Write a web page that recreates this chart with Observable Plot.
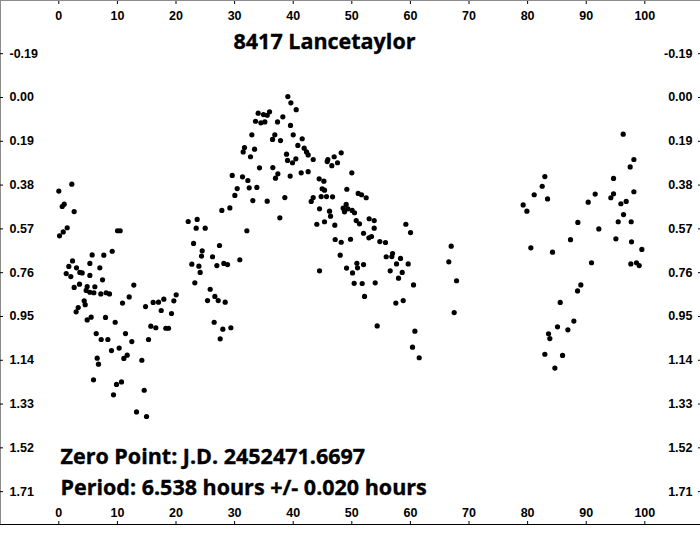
<!DOCTYPE html>
<html>
<head>
<meta charset="utf-8">
<script src="https://cdn.jsdelivr.net/npm/d3@7"></script>
<script src="https://cdn.jsdelivr.net/npm/@observablehq/plot@0.6"></script>
<style>
  html, body { margin: 0; padding: 0; background: #fff; }
  #chart svg { display: block; }
</style>
</head>
<body>
<div id="chart"></div>
<script>
// ---- text ----
const title = "8417 Lancetaylor";
const zeroPointNote = "Zero Point: J.D. 2452471.6697";
const periodNote = "Period: 6.538 hours +/- 0.020 hours";

// ---- axes ----
const xTicks = [0, 10, 20, 30, 40, 50, 60, 70, 80, 90, 100];
const yTicks = [-0.19, 0.00, 0.19, 0.38, 0.57, 0.76, 0.95, 1.14, 1.33, 1.52, 1.71];
const xDomain = [-9.95, 109.5];
const yDomain = [-0.4208, 1.8525];

// ---- data: phase (%) and relative magnitude ----
const phase = [
  0.00, 2.22, 0.58, 0.92, 2.62, 0.12, 0.75, 1.43, 10.02, 10.47,
  5.69, 7.68, 9.11, 2.34, 5.30, 1.71, 3.02, 7.00, 3.59, 3.99,
  1.26, 2.05, 5.30, 7.46, 12.80, 3.53, 2.62, 4.84, 6.15, 4.67,
  5.30, 5.98, 7.17, 8.08, 8.65, 12.01, 10.87, 4.33, 4.50, 3.31,
  2.96, 4.84, 5.52, 7.97, 9.62, 14.80, 16.10, 17.01, 17.92, 19.63,
  20.03, 17.47, 19.23, 15.70, 16.56, 18.26, 18.72, 6.38, 11.38, 7.23,
  8.37, 12.46, 15.31, 8.99, 10.30, 11.67, 11.10, 14.17, 6.55, 6.77,
  5.92, 9.85, 10.70, 9.33, 14.57, 13.26, 14.97,
  39.08, 39.60, 40.51, 34.02, 34.93, 35.56, 35.96, 33.57, 34.48, 35.16,
  37.32, 38.23, 39.54, 32.94, 36.86, 36.47, 37.83, 40.00, 41.53, 40.79,
  31.69, 33.40, 31.46, 32.71, 38.86, 39.03, 39.88, 40.45, 41.87, 42.27,
  42.55, 43.41, 45.91, 45.80, 46.59, 46.99, 47.56, 48.19, 34.25, 36.52,
  37.38, 36.98, 39.48, 41.36, 42.55, 29.59, 31.35, 32.26, 30.44, 32.49,
  33.79, 30.04, 33.11, 35.56, 38.57, 27.82, 29.19, 37.72, 22.08, 23.61,
  23.44, 24.98, 32.09, 44.43, 45.23, 50.00, 44.94, 45.34, 43.41, 43.07,
  44.77, 45.68, 46.71, 49.15, 51.09, 51.66, 52.45, 44.49, 46.19, 46.37,
  48.53, 49.04, 48.75, 49.32, 50.06, 50.46, 44.03, 45.34, 47.10, 50.75,
  51.31, 52.96, 53.82, 52.00, 52.91, 53.36, 53.82, 47.16, 48.19, 49.78,
  54.78, 55.75, 59.22, 60.02, 22.99, 27.42, 24.47, 24.35, 26.23, 30.89,
  22.70, 23.90, 24.12, 26.97, 28.16, 28.79, 48.02, 49.10, 50.12, 50.97,
  50.86, 52.00, 50.40, 51.77, 53.99, 52.17, 44.49, 55.87, 56.95, 56.83,
  58.31, 57.63, 59.62, 56.55, 58.60, 57.97, 60.53, 23.21, 25.83, 25.38,
  26.63, 27.20, 28.39, 57.51, 58.77, 26.51, 27.99, 29.36, 27.54, 54.33,
  60.76, 60.36, 61.50, 66.96, 66.55, 67.87, 67.47, 96.31, 98.13, 97.50,
  82.94, 82.49, 81.12, 83.40, 79.24, 79.87, 94.66, 91.53, 90.34, 94.66,
  94.20, 98.13, 96.82, 95.91, 96.37, 95.46, 97.67, 88.57, 92.15, 87.32,
  95.06, 97.73, 99.49, 80.55, 84.25, 90.90, 97.61, 98.58, 99.04, 89.08,
  88.52, 85.56, 87.89, 85.10, 86.87, 83.57, 83.79, 82.94, 85.96, 84.65
];
const mag = [
  0.406, 0.376, 0.473, 0.463, 0.495, 0.600, 0.583, 0.565, 0.578, 0.578,
  0.683, 0.684, 0.667, 0.709, 0.720, 0.733, 0.739, 0.739, 0.759, 0.761,
  0.764, 0.777, 0.772, 0.791, 0.814, 0.810, 0.824, 0.820, 0.821, 0.837,
  0.845, 0.847, 0.852, 0.847, 0.852, 0.865, 0.892, 0.882, 0.899, 0.911,
  0.930, 0.965, 0.953, 0.954, 0.975, 0.907, 0.889, 0.888, 0.875, 0.882,
  0.856, 0.924, 0.937, 0.992, 0.999, 1.001, 1.001, 1.024, 1.024, 1.050,
  1.050, 1.059, 1.050, 1.098, 1.087, 1.118, 1.132, 1.140, 1.131, 1.157,
  1.225, 1.245, 1.234, 1.290, 1.270, 1.364, 1.384,
  -0.004, 0.023, 0.053, 0.068, 0.074, 0.077, 0.062, 0.103, 0.110, 0.106,
  0.106, 0.084, 0.121, 0.162, 0.162, 0.182, 0.187, 0.162, 0.179, 0.208,
  0.217, 0.224, 0.236, 0.257, 0.246, 0.273, 0.283, 0.266, 0.220, 0.236,
  0.249, 0.269, 0.269, 0.278, 0.296, 0.257, 0.283, 0.240, 0.305, 0.304,
  0.331, 0.350, 0.341, 0.327, 0.322, 0.338, 0.344, 0.360, 0.395, 0.392,
  0.390, 0.425, 0.447, 0.450, 0.434, 0.490, 0.479, 0.522, 0.538, 0.529,
  0.567, 0.567, 0.578, 0.353, 0.363, 0.327, 0.396, 0.402, 0.434, 0.451,
  0.430, 0.430, 0.431, 0.398, 0.416, 0.422, 0.435, 0.483, 0.493, 0.515,
  0.480, 0.464, 0.496, 0.483, 0.490, 0.500, 0.550, 0.539, 0.554, 0.534,
  0.548, 0.526, 0.534, 0.589, 0.609, 0.603, 0.567, 0.616, 0.628, 0.615,
  0.625, 0.629, 0.550, 0.586, 0.633, 0.642, 0.665, 0.688, 0.691, 0.704,
  0.723, 0.732, 0.759, 0.729, 0.720, 0.725, 0.684, 0.740, 0.761, 0.739,
  0.719, 0.725, 0.806, 0.807, 0.804, 0.863, 0.752, 0.691, 0.677, 0.690,
  0.698, 0.722, 0.722, 0.752, 0.759, 0.784, 0.813, 0.804, 0.832, 0.881,
  0.863, 0.881, 0.888, 0.892, 0.881, 0.975, 1.005, 0.999, 1.047, 0.991,
  1.014, 1.083, 1.129, 0.645, 0.713, 0.795, 0.933, 0.159, 0.269, 0.301,
  0.343, 0.385, 0.422, 0.440, 0.466, 0.493, 0.351, 0.419, 0.454, 0.418,
  0.435, 0.409, 0.451, 0.461, 0.508, 0.539, 0.539, 0.542, 0.570, 0.617,
  0.613, 0.626, 0.659, 0.652, 0.671, 0.717, 0.722, 0.717, 0.729, 0.813,
  0.839, 0.889, 0.970, 0.995, 1.008, 1.025, 1.046, 1.114, 1.119, 1.174
];

const points = phase.map((p, i) => ({phase: p, mag: mag[i]}));
const fmtY = d => d.toFixed(2);
const fmtX = d => String(d);
const noteFont = {fontFamily: "'Open Sans', sans-serif", fontWeight: "bold", fontSize: 21.5, fill: "#000", stroke: "#000", strokeWidth: 0.35};

const chart = Plot.plot({
  width: 700,
  height: 548,
  marginTop: 0,
  marginRight: 0,
  marginBottom: 24,
  marginLeft: 0,
  style: {fontFamily: "'Liberation Sans', Arial, sans-serif", fontSize: "12.5px", fontWeight: "bold", background: "#fff", color: "#000"},
  x: {domain: xDomain, label: null},
  y: {domain: yDomain, reverse: true, label: null},
  marks: [
    Plot.frame({stroke: "#8c8c8c"}),
    Plot.ruleY([yDomain[1]], {stroke: "#000"}),
    Plot.axisX(xTicks, {anchor: "top", tickSize: -3, tickPadding: -16, tickFormat: fmtX, label: null}),
    Plot.axisX(xTicks, {anchor: "bottom", tickSize: -3, tickPadding: -13, tickFormat: fmtX, label: null}),
    Plot.axisY(yTicks, {anchor: "left", tickSize: -3, tickPadding: -6, textAnchor: "start", tickFormat: fmtY, label: null}),
    Plot.axisY(yTicks, {anchor: "right", tickSize: -3, tickPadding: -5, textAnchor: "end", tickFormat: fmtY, label: null}),
    Plot.dot(points, {x: "phase", y: "mag", r: 2.6, fill: "#000", stroke: null}),
    Plot.text([title], {frameAnchor: "top-left", dx: 233, dy: 48.3, lineAnchor: "bottom", textAnchor: "start", ...noteFont}),
    Plot.text([zeroPointNote], {frameAnchor: "top-left", dx: 60, dy: 463.3, lineAnchor: "bottom", textAnchor: "start", ...noteFont}),
    Plot.text([periodNote], {frameAnchor: "top-left", dx: 60, dy: 494.3, lineAnchor: "bottom", textAnchor: "start", ...noteFont})
  ]
});
document.getElementById("chart").appendChild(chart);
</script>
</body>
</html>
